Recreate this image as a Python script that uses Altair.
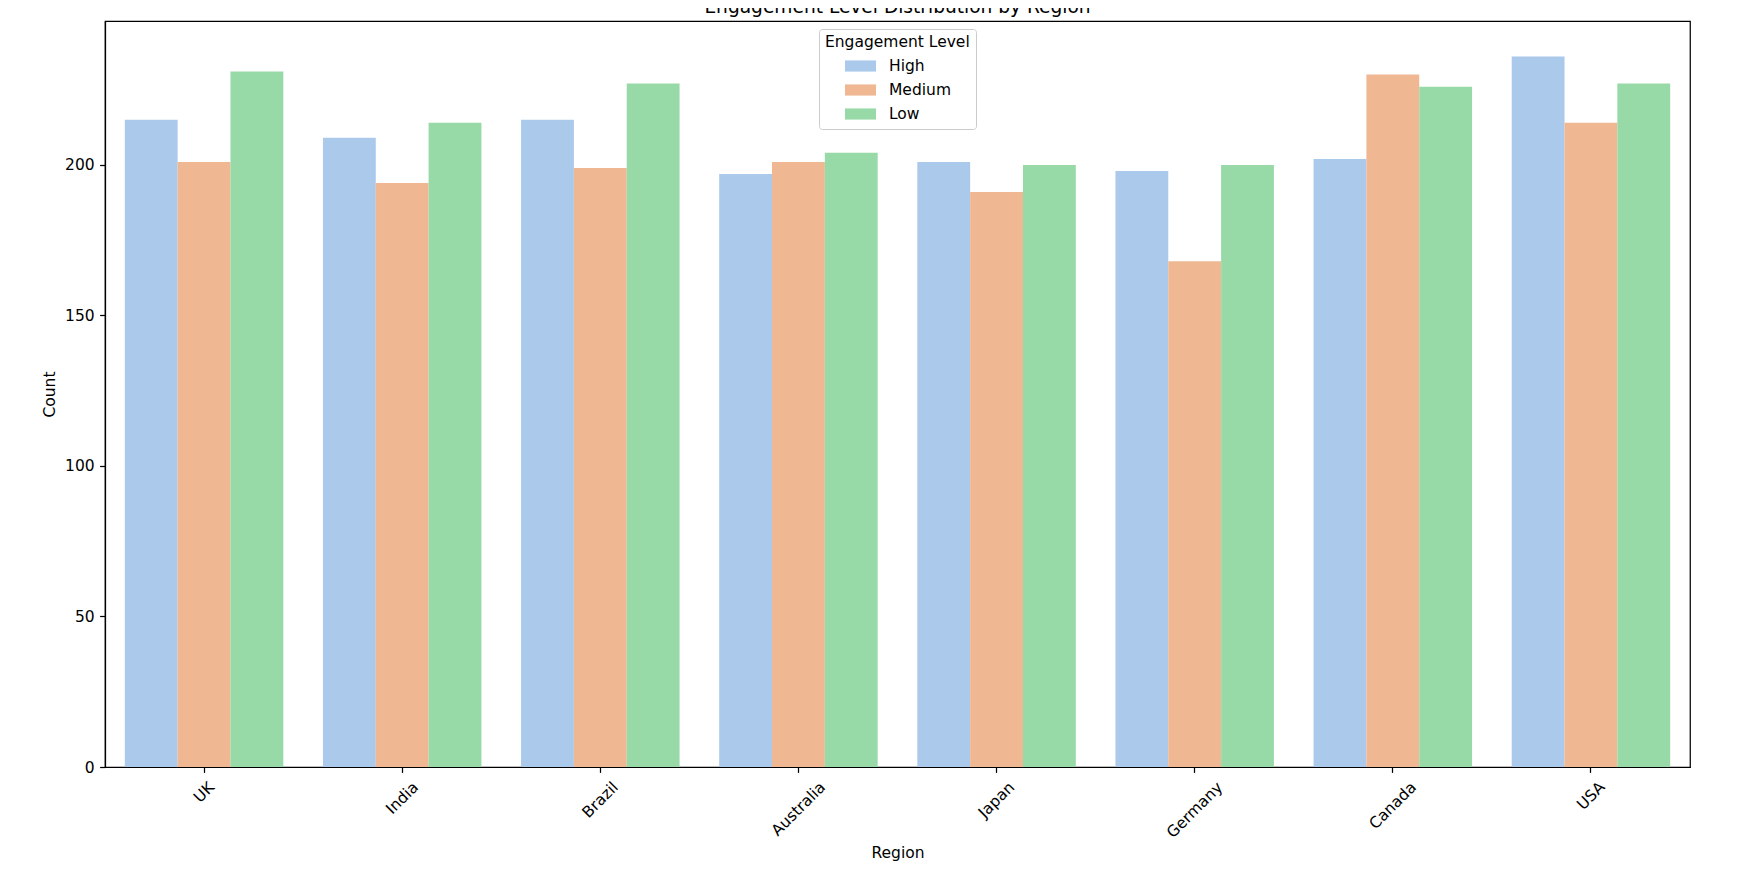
import altair as alt
import pandas as pd

# ---- data ----
regions = ["UK", "India", "Brazil", "Australia", "Japan", "Germany", "Canada", "USA"]
levels = ["High", "Medium", "Low"]
high = [215, 209, 215, 197, 201, 198, 202, 236]
medium = [201, 194, 199, 201, 191, 168, 230, 214]
low = [231, 214, 227, 204, 200, 200, 226, 227]
y_ticks = [0, 50, 100, 150, 200]

# ---- style ----
colors = ["#abc9ea", "#efb792", "#98daa7"]
FONT = "DejaVu Sans"
FS = 15.5

rows = []
for i, r in enumerate(regions):
    for lvl, vals in zip(levels, [high, medium, low]):
        rows.append({"Region": r, "Engagement Level": lvl, "Count": vals[i]})
df = pd.DataFrame(rows)

# approximate rendered label widths (px) so rotated labels sit like matplotlib's centred ones
label_w = ("datum.value=='UK'?21.5:datum.value=='India'?38:datum.value=='Brazil'?43.3:"
           "datum.value=='Australia'?68.6:datum.value=='Japan'?43.2:datum.value=='Germany'?71.4:"
           "datum.value=='Canada'?59:31.8")
label_pad_expr = f"5.4 + (({label_w}) + 18) * 0.354"

chart = alt.Chart(df).mark_bar().encode(
    x=alt.X(
        "Region:N",
        sort=regions,
        scale=alt.Scale(paddingInner=0.2, paddingOuter=0.1),
        axis=alt.Axis(
            title="Region",
            labelAngle=-45,
            labelAlign="center",
            labelBaseline="middle",
            labelPadding={"expr": label_pad_expr},
            labelOverlap=False,
            labelFont=FONT,
            labelFontSize=FS,
            labelColor="black",
            tickSize=5.4,
            tickWidth=1.24,
            tickColor="black",
            domain=True,
            domainColor="black",
            domainWidth=1.24,
            zindex=1,
            titleFont=FONT,
            titleFontSize=FS,
            titleFontWeight="normal",
            titleColor="black",
            titleX=792.5,
            titleY=85,
            titleBaseline="middle",
            titleAlign="center",
        ),
    ),
    xOffset=alt.XOffset("Engagement Level:N", sort=levels),
    y=alt.Y(
        "Count:Q",
        scale=alt.Scale(domain=[0, 247.8], nice=False, zero=True),
        axis=alt.Axis(
            title="Count",
            values=y_ticks,
            grid=False,
            labelFont=FONT,
            labelFontSize=FS,
            labelColor="black",
            labelPadding=5.4,
            tickSize=5.4,
            tickWidth=1.24,
            tickColor="black",
            domain=True,
            domainColor="black",
            domainWidth=1.24,
            zindex=1,
            titleFont=FONT,
            titleFontSize=FS,
            titleFontWeight="normal",
            titleColor="black",
            titleAngle=270,
            titleX=-56,
            titleY=373,
            titleBaseline="middle",
            titleAlign="center",
        ),
    ),
    color=alt.Color(
        "Engagement Level:N",
        sort=levels,
        scale=alt.Scale(domain=levels, range=colors),
        legend=alt.Legend(
            title="Engagement Level",
            orient="none",
            legendX=714,
            legendY=8,
            direction="vertical",
            titleFont=FONT,
            titleFontSize=FS,
            titleFontWeight="normal",
            titleColor="black",
            titlePadding=0,
            labelFont=FONT,
            labelFontSize=FS,
            labelColor="black",
            labelOffset=13,
            symbolType="M-1,-0.36H1V0.36H-1Z",
            symbolSize=961,
            symbolStrokeWidth=0,
            symbolOffset=20,
            rowPadding=-0.5,
            padding=6,
            strokeColor="#cccccc",
            fillColor="rgba(255,255,255,0.8)",
            cornerRadius=3,
        ),
    ),
).properties(
    width=1585,
    height=746,
    title=alt.TitleParams(
        text="Engagement Level Distribution by Region",
        font=FONT,
        fontSize=18.6,
        fontWeight="normal",
        color="black",
        anchor="middle",
        frame="group",
        baseline="alphabetic",
        offset=4,
        dy=15,
    ),
    padding={"left": 97, "top": 13, "right": 50, "bottom": 100},
    autosize=alt.AutoSizeParams(type="none"),
).configure(
    background="white",
    view=alt.ViewConfig(stroke="black", strokeWidth=1.24),
)

chart.save("out.html", embed_options={"renderer": "svg", "actions": False})
